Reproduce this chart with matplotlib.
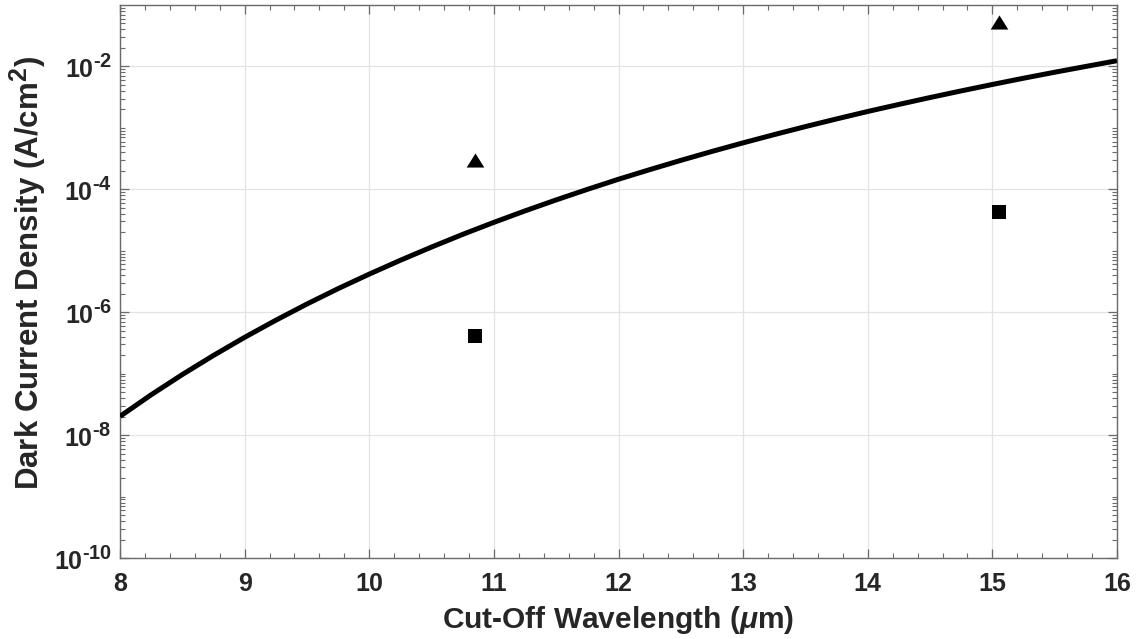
import numpy as np
import matplotlib
matplotlib.use("Agg")
import matplotlib.pyplot as plt
import matplotlib._mathtext as _mt
from matplotlib.ticker import FixedLocator, NullFormatter

# ---- data ----
curve_wavelength = [8.0, 8.25, 8.5, 8.75, 9.0, 9.25, 9.5, 9.75, 10.0, 10.25, 10.5,
                    10.75, 11.0, 11.25, 11.5, 11.75, 12.0, 12.25, 12.5, 12.75, 13.0,
                    13.25, 13.5, 13.75, 14.0, 14.25, 14.5, 14.75, 15.0, 15.25, 15.5,
                    15.75, 16.0]
curve_density = [2.02e-8, 4.53e-8, 9.68e-8, 1.98e-7, 3.90e-7, 7.40e-7, 1.36e-6,
                 2.42e-6, 4.17e-6, 7.01e-6, 1.15e-5, 1.85e-5, 2.90e-5, 4.46e-5,
                 6.73e-5, 9.98e-5, 1.46e-4, 2.09e-4, 2.96e-4, 4.14e-4, 5.71e-4,
                 7.78e-4, 1.05e-3, 1.40e-3, 1.85e-3, 2.41e-3, 3.12e-3, 4.00e-3,
                 5.09e-3, 6.43e-3, 8.05e-3, 1.00e-2, 1.24e-2]

triangle_wavelength = [10.85, 15.05]
triangle_density = [3.0e-4, 5.3e-2]

square_wavelength = [10.85, 15.05]
square_density = [4.1e-7, 4.2e-5]

x_ticks = [8, 9, 10, 11, 12, 13, 14, 15, 16]
y_tick_exponents = [-10, -8, -6, -4, -2]

# larger superscripts, as in the reference
_mt.SHRINK_FACTOR = 0.8

plt.rcParams['font.family'] = ['Liberation Sans', 'DejaVu Sans']
plt.rcParams['font.weight'] = 'bold'
plt.rcParams['mathtext.fontset'] = 'custom'
plt.rcParams['mathtext.rm'] = 'Liberation Sans:bold'
plt.rcParams['mathtext.bf'] = 'Liberation Sans:bold'
plt.rcParams['mathtext.it'] = 'Liberation Sans:italic'

fig = plt.figure(figsize=(11.4, 6.39), dpi=100)
ax = fig.add_axes([120 / 1140, 1 - 558 / 639, (1117 - 120) / 1140, (558 - 5) / 639])

ax.plot(curve_wavelength, curve_density, color='black', lw=3.6,
        solid_capstyle='butt', solid_joinstyle='round', zorder=3)
tri = [(-1, -0.8), (1, -0.8), (0, 0.8), (-1, -0.8)]
ax.plot(triangle_wavelength, triangle_density, linestyle='none', marker=tri,
        markersize=12.7, color='black', mew=0, zorder=4)
ax.plot(square_wavelength, square_density, linestyle='none', marker='s',
        markersize=9.8, color='black', mew=0, zorder=4)

ax.set_yscale('log')
ax.set_xlim(8, 16)
ax.set_ylim(1e-10, 1e-1)

ax.set_xticks(x_ticks)
ax.set_xticklabels([str(t) for t in x_ticks])
ax.xaxis.set_minor_locator(FixedLocator(np.arange(8, 16.001, 0.2)))

ax.set_yticks([10.0 ** e for e in y_tick_exponents])
ax.set_yticklabels([r'$\mathbf{10^{\text{%d}}}$' % e for e in y_tick_exponents])
minor = []
for e in range(-10, -1):
    for k in range(1, 10):
        if k == 1 and e in y_tick_exponents:
            continue
        minor.append(k * 10.0 ** e)
ax.yaxis.set_minor_locator(FixedLocator(minor))
ax.yaxis.set_minor_formatter(NullFormatter())

spine_color = '#6a6a6a'
for s in ax.spines.values():
    s.set_color(spine_color)
    s.set_linewidth(1.0)

ax.tick_params(which='both', direction='in', top=True, right=True,
               color=spine_color, labelcolor='#262626', labelsize=18)
ax.tick_params(which='major', length=6.5, width=0.9)
ax.tick_params(axis='x', which='major', pad=10)
ax.tick_params(axis='y', which='major', pad=6)
ax.tick_params(which='minor', length=3.3, width=0.8)

ax.grid(True, which='major', color='#e3e3e3', lw=0.9)
ax.set_axisbelow(True)

ax.set_xlabel(r'Cut-Off Wavelength ($\mu$m)', fontsize=21.5, fontweight='bold',
              color='#262626', labelpad=6)
ax.set_ylabel(r'Dark Current Density (A/cm$^{\mathbf{2}}$)', fontsize=22.5,
              fontweight='bold', color='#262626')
ax.yaxis.set_label_coords(-0.071, 0.515)

fig.savefig('out.png', dpi=100)
